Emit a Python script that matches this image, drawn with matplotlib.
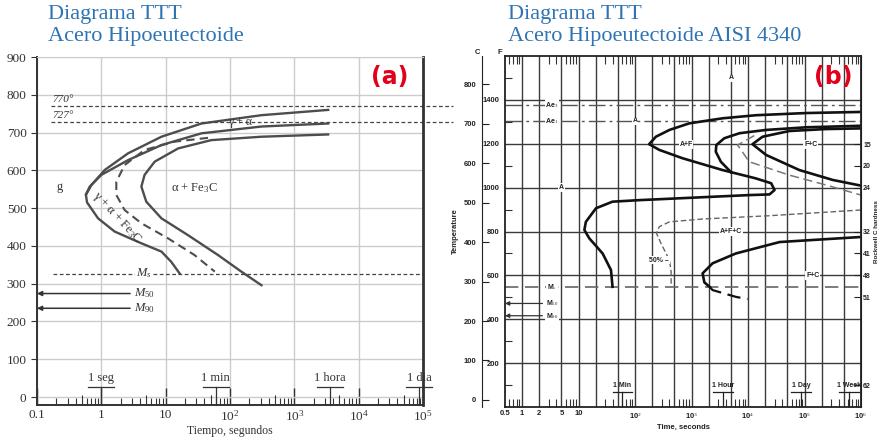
import matplotlib.pyplot as plt
from matplotlib.ticker import LogLocator, NullFormatter

plt.rcParams['font.family'] = ['Liberation Serif', 'DejaVu Serif']
plt.rcParams['mathtext.fontset'] = 'custom'
plt.rcParams['mathtext.rm'] = 'Liberation Serif'
plt.rcParams['mathtext.it'] = 'Liberation Serif:italic'

# ---------------- panel (a): hypoeutectoid steel ----------------
a_time_ticks = [0.1, 1, 10, 1e2, 1e3, 1e4, 1e5]
a_time_labels = ['0.1', '1', '10', '10$^2$', '10$^3$', '10$^4$', '10$^5$']
a_temp_ticks = [0, 100, 200, 300, 400, 500, 600, 700, 800, 900]

# ferrite start (upper branch, joins pearlite start at the nose)
a_fs_t = [3357, 308, 36, 8.6, 2.6, 1.13, 0.70, 0.58]
a_fs_T = [760, 746, 724, 689, 645, 601, 561, 536]
# pearlite start
a_ps_t = [3357, 308, 36, 8.6, 2.6, 1.0, 0.66, 0.575, 0.6, 0.89, 1.61, 4.19, 8.6, 12.2, 16.5]
a_ps_T = [724, 716, 698, 667, 627, 588, 557, 536, 515, 473, 438, 407, 385, 358, 327]
# 50 % (dashed)
a_mid_t = [45.5, 13.8, 4.7, 2.3, 1.71, 1.71, 2.3, 4.19, 10.9, 28, 58]
a_mid_T = [686, 676, 654, 614, 570, 535, 495, 460, 420, 376, 332]
# finish
a_pf_t = [3357, 308, 51, 15.6, 6.75, 4.7, 4.19, 5.0, 8.6, 22, 65, 150, 308]
a_pf_T = [695, 689, 680, 658, 623, 588, 557, 517, 473, 429, 376, 332, 296]

a_A3, a_A1, a_Ms, a_M50, a_M90 = 770, 727, 327, 274, 235
a_marks = ['1 seg', '1 min', '1 hora', '1 dia']
a_mark_t = [1, 60, 3600, 86400]

# ---------------- panel (b): AISI 4340 ----------------
b_time_ticks = [0.5, 1, 2, 5, 10, 1e2, 1e3, 1e4, 1e5, 1e6]
b_time_labels = ['0.5', '1', '2', '5', '10', '10$^2$', '10$^3$', '10$^4$', '10$^5$', '10$^6$']
b_grid_t = [1, 2, 5, 10, 20, 50, 100, 200, 500, 1e3, 2e3, 5e3,
            1e4, 2e4, 5e4, 1e5, 2e5, 5e5]
b_temp_F = [200, 400, 600, 800, 1000, 1200, 1400]
b_temp_C = [0, 100, 200, 300, 400, 500, 600, 700, 800]
b_hrc = ['15', '20', '24', '32', '41', '48', '51', '62']
b_hrc_F = [1198, 1100, 1000, 800, 700, 600, 500, 100]

# A -> A+F start (with bainite bay)
b_c1_t = [1e6, 1.07e5, 1.38e4, 3550, 912, 407, 234, 178, 269, 692, 3550, 1.38e4,
          2.57e4, 2.95e4, 2.4e4, 1.05e4, 120, 40, 20.4, 13.5, 12.7, 15.5, 26.7, 37.6, 40]
b_c1_T = [1345, 1340, 1330, 1316, 1293, 1263, 1232, 1198, 1172, 1134, 1080, 1042,
          1020, 989, 969, 966, 943, 936, 906, 844, 807, 769, 700, 624, 548]
# A+F -> F+C start
b_c2_t = [1e6, 1.07e5, 2.09e4, 7080, 3800, 2750, 2690, 3310, 5010]
b_c2_T = [1282, 1275, 1263, 1248, 1225, 1194, 1164, 1118, 1070]
# 50 % upper (dashed)
b_c3_t = [1.29e4, 6550, 1.05e4, 5.37e4, 2.4e5, 1e6]
b_c3_T = [1237, 1194, 1118, 1057, 1012, 966]
# finish upper
b_c4_t = [1e6, 2.4e5, 5.37e4, 1.81e4, 1.2e4, 2.09e4, 8.13e4, 3.16e5, 1e6]
b_c4_T = [1270, 1267, 1258, 1232, 1198, 1149, 1080, 1035, 1009]
# 50 % lower (dashed)
b_c5_t = [1e6, 2.4e4, 1580, 407, 269, 240, 288, 407, 436, 436]
b_c5_T = [898, 872, 857, 844, 822, 792, 746, 670, 616, 548]
# finish lower (solid above Ms, dashed below)
b_c6_t = [1e6, 3.63e4, 6110, 2360, 1570, 1690, 2090]
b_c6_T = [775, 752, 700, 655, 609, 568, 548]
b_c6d_t = [2090, 2360, 6110, 9800]
b_c6d_T = [548, 533, 502, 492]

b_Ae3, b_Ae1, b_Ms, b_M50, b_M90 = 1377, 1304, 548, 472, 416
b_marks = ['1 Min', '1 Hour', '1 Day', '1 Week']
b_mark_t = [60, 3600, 86400, 604800]


def box(l, t, r, b):
    return [l / 880, 1 - b / 441, (r - l) / 880, (b - t) / 441]


fig = plt.figure(figsize=(8.8, 4.41), dpi=100)
blue = '#2E74B5'
red = '#E3001B'
fig.text(48 / 880, 1 - 14 / 441, 'Diagrama TTT', color=blue, fontsize=16, va='center')
fig.text(48 / 880, 1 - 37 / 441, 'Acero Hipoeutectoide', color=blue, fontsize=16, va='center')
fig.text(508 / 880, 1 - 14 / 441, 'Diagrama TTT', color=blue, fontsize=16, va='center')
fig.text(508 / 880, 1 - 37 / 441, 'Acero Hipoeutectoide AISI 4340', color=blue,
         fontsize=16, va='center')

# ===================== (a) =====================
ax = fig.add_axes(box(37, 57, 423, 405))
ax.set_xscale('log')
ax.set_xlim(0.1, 1e5)
ax.set_ylim(-21, 900)
ax.set_xticks(a_time_ticks)
ax.set_xticklabels(a_time_labels)
ax.xaxis.set_minor_locator(LogLocator(base=10, subs=(2, 3, 4, 6, 7, 8, 9), numticks=30))
ax.xaxis.set_minor_formatter(NullFormatter())
ax.set_yticks(a_temp_ticks)
ax.tick_params(axis='x', which='major', direction='in', length=12, width=1,
               pad=3, labelsize=9.5, colors='#333')
ax.tick_params(axis='x', which='minor', direction='in', length=5, width=0.8, color='#333')
ax.tick_params(axis='y', direction='out', length=4, labelsize=9.5, colors='#333')
ax.grid(True, which='major', color='#cccccc', lw=1)
ax.set_axisbelow(True)
for s in ['left', 'bottom']:
    ax.spines[s].set_color('#333')
    ax.spines[s].set_linewidth(1.4)
ax.spines['right'].set_color('#333')
ax.spines['right'].set_linewidth(2)
ax.spines['top'].set_color('#cccccc')
ax.vlines([0.5, 5, 50, 500, 5000, 50000], 0, 0.028,
          transform=ax.get_xaxis_transform(), color='#333', lw=0.8)
ax.set_xlabel('Tiempo, segundos', fontsize=8.5, color='#333', labelpad=1)

cc = '#4d4d4d'
ax.plot(a_fs_t, a_fs_T, color=cc, lw=1.7, solid_joinstyle='round')
ax.plot(a_ps_t, a_ps_T, color=cc, lw=1.7, solid_joinstyle='round')
ax.plot(a_mid_t, a_mid_T, color=cc, lw=1.5, ls=(0, (4, 2.5)))
ax.plot(a_pf_t, a_pf_T, color=cc, lw=1.7, solid_joinstyle='round')

dash = (0, (3, 2))
for T in [a_A3, a_A1]:
    ax.plot([0.167, 10 ** 5.47], [T, T], color='#444', lw=0.9, ls=dash, clip_on=False)
ax.plot([0.18, 1e5], [a_Ms, a_Ms], color='#444', lw=0.9, ls=dash)
ax.text(0.175, a_A3 + 6, '770°', fontsize=8, style='italic', color='#333', va='bottom')
ax.text(0.175, a_A1 + 6, '727°', fontsize=8, style='italic', color='#333', va='bottom')
ax.text(3.4, a_Ms, '$M_s$', fontsize=9, color='#333', va='center',
        bbox=dict(fc='white', ec='none', pad=0.5))
for T, lab in [(a_M50, '$M_{50}$'), (a_M90, '$M_{90}$')]:
    ax.annotate('', xy=(0.1, T), xytext=(2.8, T),
                arrowprops=dict(arrowstyle='-|>', color='#333', lw=1.1,
                                mutation_scale=7, shrinkA=0, shrinkB=0))
    ax.text(3.2, T, lab, fontsize=9, color='#333', va='center')
ax.text(0.2, 556, 'g', fontsize=9, color='#333', va='center')
ax.text(12.3, 552, r'α + Fe$_3$C', fontsize=9, color='#333', va='center')
ax.text(94, 729, 'γ + α', fontsize=8.5, color='#333', va='center')
ax.text(1.75, 474, r'γ + α + Fe$_3$C', fontsize=9, color='#333', va='center',
        ha='center', rotation=-47)
for lab, t in zip(a_marks, a_mark_t):
    ax.text(t, 50, lab, fontsize=9, color='#333', ha='center', va='center')
    ax.plot([t / 1.6, t * 1.6], [26, 26], color='#333', lw=0.9, clip_on=False)
    ax.plot([t, t], [26, -21], color='#333', lw=0.9, clip_on=False)

fig.text(390 / 880, 1 - 77 / 441, '(a)', color=red, fontsize=17, fontweight='bold',
         family='DejaVu Sans', ha='center', va='center')

# ===================== (b) =====================
sans = 'Liberation Sans'
bx = fig.add_axes(box(505, 56, 861, 407))
bx.set_xscale('log')
bx.set_xlim(0.5, 1e6)
bx.set_ylim(0, 1600)
bx.set_xticks(b_time_ticks)
bx.set_xticklabels(b_time_labels, family=sans, fontweight='bold')
bx.xaxis.set_minor_locator(LogLocator(base=10, subs=(3, 4, 6, 7, 8, 9), numticks=30))
bx.xaxis.set_minor_formatter(NullFormatter())
bx.tick_params(axis='x', which='major', length=0, pad=2, labelsize=5.5, colors='#222')
bx.tick_params(axis='x', which='minor', direction='in', length=6, width=0.8,
               top=True, bottom=True, color='#333')
bx.set_yticks(b_temp_F)
bx.set_yticklabels([str(v) for v in b_temp_F], family=sans, fontweight='bold')
bx.set_yticks([100, 300, 500, 700, 900, 1100, 1300, 1500], minor=True)
bx.tick_params(axis='y', which='major', length=0, pad=4, labelsize=5.5, colors='#222')
bx.tick_params(axis='y', which='minor', direction='in', length=5, width=0.8, color='#333')
for t in b_grid_t:
    bx.axvline(t, color='#3a3a3a', lw=1, zorder=0)
for T in b_temp_F:
    bx.axhline(T, color='#3a3a3a', lw=1, zorder=0)
for s in bx.spines.values():
    s.set_color('#222')
    s.set_linewidth(1.3)
bx.set_xlabel('Time, seconds', family=sans, fontweight='bold', fontsize=5.5,
              color='#222', labelpad=2)

csec = bx.secondary_yaxis(-0.065, functions=(lambda f: (f - 32) * 5 / 9,
                                              lambda c: c * 9 / 5 + 32))
csec.set_yticks(b_temp_C)
csec.set_yticklabels([str(v) for v in b_temp_C], family=sans, fontweight='bold')
csec.tick_params(direction='in', length=5, labelsize=5.5, colors='#222', pad=4)
csec.spines['left'].set_color('#222')
csec.set_ylabel('Temperature', family=sans, fontweight='bold', fontsize=5.5,
                color='#222', labelpad=3)

rsec = bx.secondary_yaxis('right')
rsec.set_yticks(b_hrc_F)
rsec.set_yticklabels(b_hrc, family=sans, fontweight='bold')
rsec.tick_params(direction='in', length=5, labelsize=5, colors='#222', pad=1.5)
fig.text(876.5 / 880, 1 - 232 / 441, 'Rockwell C hardness', family=sans, fontweight='bold',
         fontsize=4.5, color='#222', rotation=90, ha='center', va='center')
fig.text(477 / 880, 1 - 52 / 441, 'C', family=sans, fontweight='bold', fontsize=5.5,
         ha='center', va='center', color='#222')
fig.text(500 / 880, 1 - 52 / 441, 'F', family=sans, fontweight='bold', fontsize=5.5,
         ha='center', va='center', color='#222')

dd = (0, (12, 3, 2, 3))
bx.axhline(b_Ae3, color='#555', lw=1, ls=dd, zorder=1)
bx.axhline(b_Ae1, color='#555', lw=1, ls=dd, zorder=1)
bx.axhline(b_Ms, color='#666', lw=1.2, ls=(0, (8, 4)), zorder=1)

k = '#111'
bx.plot(b_c1_t, b_c1_T, color=k, lw=1.9, solid_joinstyle='round')
bx.plot(b_c2_t, b_c2_T, color=k, lw=1.9, solid_joinstyle='round')
bx.plot(b_c3_t, b_c3_T, color='#777', lw=1.1, ls=(0, (6, 3)))
bx.plot(b_c4_t, b_c4_T, color=k, lw=1.9, solid_joinstyle='round')
bx.plot(b_c5_t, b_c5_T, color='#666', lw=1.0, ls=(0, (4, 2)))
bx.plot(b_c6_t, b_c6_T, color=k, lw=1.9, solid_joinstyle='round')
bx.plot(b_c6d_t, b_c6d_T, color=k, lw=1.6, ls=(0, (6, 3)))

wb = dict(fc='white', ec='none', pad=0.6)
lab_kw = dict(family=sans, fontweight='bold', fontsize=5, color='#222',
              ha='center', va='center', bbox=wb)
bx.text(5000, 1500, 'A', **lab_kw)
bx.text(100, 1304, 'A', **lab_kw)
bx.text(5, 1000, 'A', **lab_kw)
bx.text(800, 1198, 'A+F', **lab_kw)
bx.text(1.3e5, 1198, 'F+C', **lab_kw)
bx.text(5000, 800, 'A+F+C', **lab_kw)
bx.text(1.4e5, 600, 'F+C', **lab_kw)
bx.text(3.4, b_Ae3, 'Ae$_3$', **lab_kw)
bx.text(3.4, b_Ae1, 'Ae$_1$', **lab_kw)
bx.text(3.4, b_Ms, 'M$_s$', **lab_kw)
for T, lab in [(b_M50, 'M$_{50}$'), (b_M90, 'M$_{90}$')]:
    bx.annotate('', xy=(0.5, T), xytext=(2.3, T),
                arrowprops=dict(arrowstyle='-|>', color='#333', lw=0.9,
                                mutation_scale=6, shrinkA=0, shrinkB=0))
    bx.text(3.4, T, lab, **lab_kw)
bx.text(400, 670, '50% –', family=sans, fontweight='bold', fontsize=5, color='#222',
        ha='right', va='center', bbox=wb)
for lab, t in zip(b_marks, b_mark_t):
    bx.text(t, 100, lab, family=sans, fontweight='bold', fontsize=5, color='#222',
            ha='center', va='center')
    bx.plot([t / 1.5, t * 1.5], [70, 70], color='#222', lw=0.9)
    bx.plot([t, t], [70, 0], color='#222', lw=0.9)

fig.text(833 / 880, 1 - 77 / 441, '(b)', color=red, fontsize=17, fontweight='bold',
         family='DejaVu Sans', ha='center', va='center')

fig.savefig('out.png', dpi=100)
